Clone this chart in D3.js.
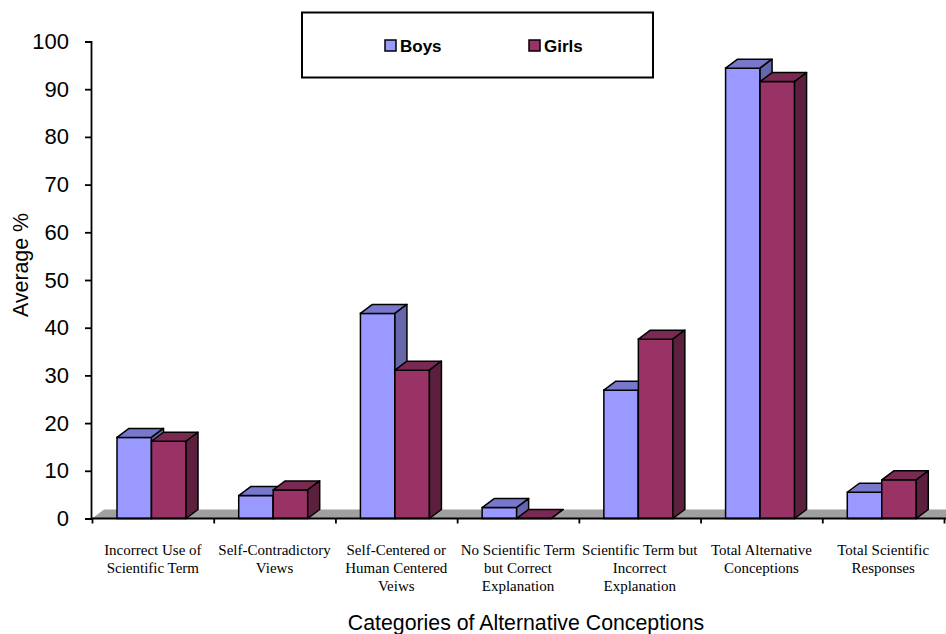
<!DOCTYPE html>
<html>
<head>
<meta charset="utf-8">
<script src="https://cdn.jsdelivr.net/npm/d3@7"></script>
<style>
  body { margin: 0; background: #fff; }
  svg { display: block; }
</style>
</head>
<body>
<div class="chart"></div>
<script>
'use strict';

var categories = [
    ['Incorrect Use of', 'Scientific Term'],
    ['Self-Contradictory', 'Views'],
    ['Self-Centered or', 'Human Centered', 'Veiws'],
    ['No Scientific Term', 'but Correct', 'Explanation'],
    ['Scientific Term but', 'Incorrect', 'Explanation'],
    ['Total Alternative', 'Conceptions'],
    ['Total Scientific', 'Responses']
];
var seriesNames = ['Boys', 'Girls'];
var boys = [17.0, 4.8, 43.0, 2.3, 26.9, 94.4, 5.5];
var girls = [16.2, 6.0, 31.1, 0, 37.6, 91.6, 8.1];
var yTicks = [0, 10, 20, 30, 40, 50, 60, 70, 80, 90, 100];

var width = 946, height = 634;
var plot = { left: 92, right: 944, top: 41.5, bottom: 518.5 };
var depth = { dx: 12, dy: 9 };

var colors = {
    Boys: { front: '#9999ff', top: '#7777cc', side: '#6666aa' },
    Girls: { front: '#993366', top: '#7a2952', side: '#5c1f3d' }
};

var svg = d3.select('div.chart').append('svg')
    .attr('width', width)
    .attr('height', height);

var y = d3.scaleLinear().domain([0, 100]).range([plot.bottom, plot.top]);

var x = d3.scaleBand()
    .domain(d3.range(categories.length))
    .range([plot.left, plot.right]);

var xInner = d3.scaleBand()
    .domain(seriesNames)
    .range([25, 25 + 69]);

// floor
svg.append('path')
    .attr('d', 'M' + plot.left + ',' + plot.bottom +
        'L' + width + ',' + plot.bottom +
        'L' + width + ',' + (plot.bottom - depth.dy) +
        'L' + (plot.left + depth.dx) + ',' + (plot.bottom - depth.dy) + 'Z')
    .attr('fill', '#a0a0a0');

// bars
var rows = categories.map(function (c, i) {
    return [{ name: 'Boys', value: boys[i], i: i }, { name: 'Girls', value: girls[i], i: i }];
});

var groups = svg.selectAll('g.cat')
    .data(rows)
    .enter().append('g')
    .attr('class', 'cat');

var bars = groups.selectAll('g.bar')
    .data(function (d) { return d; })
    .enter().append('g')
    .attr('class', 'bar');

function barX(d) { return x(d.i) + xInner(d.name); }

bars.append('rect')
    .attr('x', barX)
    .attr('y', function (d) { return y(d.value); })
    .attr('width', xInner.bandwidth())
    .attr('height', function (d) { return plot.bottom - y(d.value); })
    .attr('fill', function (d) { return colors[d.name].front; })
    .attr('stroke', '#000')
    .attr('stroke-width', 1.5);

bars.append('path')
    .attr('d', function (d) {
        var x0 = barX(d), w = xInner.bandwidth(), yv = y(d.value);
        return 'M' + x0 + ',' + yv + 'L' + (x0 + depth.dx) + ',' + (yv - depth.dy) +
            'L' + (x0 + w + depth.dx) + ',' + (yv - depth.dy) + 'L' + (x0 + w) + ',' + yv + 'Z';
    })
    .attr('fill', function (d) { return colors[d.name].top; })
    .attr('stroke', '#000')
    .attr('stroke-width', 1.5)
    .attr('stroke-linejoin', 'round');

bars.append('path')
    .attr('d', function (d) {
        var x0 = barX(d) + xInner.bandwidth(), yv = y(d.value);
        return 'M' + x0 + ',' + yv + 'L' + (x0 + depth.dx) + ',' + (yv - depth.dy) +
            'L' + (x0 + depth.dx) + ',' + (plot.bottom - depth.dy) + 'L' + x0 + ',' + plot.bottom + 'Z';
    })
    .attr('fill', function (d) { return colors[d.name].side; })
    .attr('stroke', '#000')
    .attr('stroke-width', 1.5)
    .attr('stroke-linejoin', 'round');

// axes
var yAxis = d3.axisLeft(y).tickValues(yTicks).tickSize(6).tickPadding(16);
var yAx = svg.append('g')
    .attr('transform', 'translate(' + (plot.left - 1) + ',0)')
    .call(yAxis);
yAx.selectAll('text')
    .attr('font-family', 'Liberation Sans, Arial, sans-serif')
    .attr('font-size', 22)
    .attr('fill', '#000');
yAx.selectAll('path, line').attr('stroke', '#000').attr('stroke-width', 1.8);

var xIndex = d3.scaleLinear().domain([0, categories.length]).range([plot.left, plot.right]);
var xAxis = d3.axisBottom(xIndex)
    .tickValues(d3.range(categories.length + 1))
    .tickFormat('')
    .tickSize(5)
    .tickSizeOuter(0);
var xAx = svg.append('g')
    .attr('transform', 'translate(0,' + plot.bottom + ')')
    .call(xAxis);
xAx.select('path.domain').attr('d', 'M' + (plot.left - 1) + ',0H' + width);
xAx.selectAll('path, line').attr('stroke', '#000').attr('stroke-width', 1.8);

// category labels
var labels = svg.selectAll('text.cat')
    .data(categories)
    .enter().append('text')
    .attr('class', 'cat')
    .attr('text-anchor', 'middle')
    .attr('font-family', 'Liberation Serif, Times New Roman, serif')
    .attr('font-size', 15)
    .attr('fill', '#000');

labels.selectAll('tspan')
    .data(function (d, i) { return d.map(function (t) { return { t: t, i: i }; }); })
    .enter().append('tspan')
    .attr('x', function (d) { return x(d.i) + x.bandwidth() / 2; })
    .attr('y', function (d, j) { return 555 + j * 18; })
    .text(function (d) { return d.t; });

// axis titles
svg.append('text')
    .attr('x', 526)
    .attr('y', 630)
    .attr('text-anchor', 'middle')
    .attr('font-family', 'Liberation Sans, Arial, sans-serif')
    .attr('font-size', 21.3)
    .text('Categories of Alternative Conceptions');

svg.append('text')
    .attr('transform', 'translate(28,265) rotate(-90)')
    .attr('text-anchor', 'middle')
    .attr('font-family', 'Liberation Sans, Arial, sans-serif')
    .attr('font-size', 21.3)
    .text('Average %');

// legend
var legend = svg.append('g');
legend.append('rect')
    .attr('x', 302)
    .attr('y', 12.5)
    .attr('width', 351)
    .attr('height', 65)
    .attr('fill', '#fff')
    .attr('stroke', '#000')
    .attr('stroke-width', 2);

var legendX = [385, 529];
var items = legend.selectAll('g.item')
    .data(seriesNames)
    .enter().append('g')
    .attr('class', 'item')
    .attr('transform', function (d, i) { return 'translate(' + legendX[i] + ',40)'; });

items.append('rect')
    .attr('width', 11)
    .attr('height', 11)
    .attr('fill', function (d) { return colors[d].front; })
    .attr('stroke', '#000')
    .attr('stroke-width', 1.5);

items.append('text')
    .attr('x', 15)
    .attr('y', 11.5)
    .attr('font-family', 'Liberation Sans, Arial, sans-serif')
    .attr('font-weight', 'bold')
    .attr('font-size', 17)
    .text(function (d) { return d; });
</script>
</body>
</html>
